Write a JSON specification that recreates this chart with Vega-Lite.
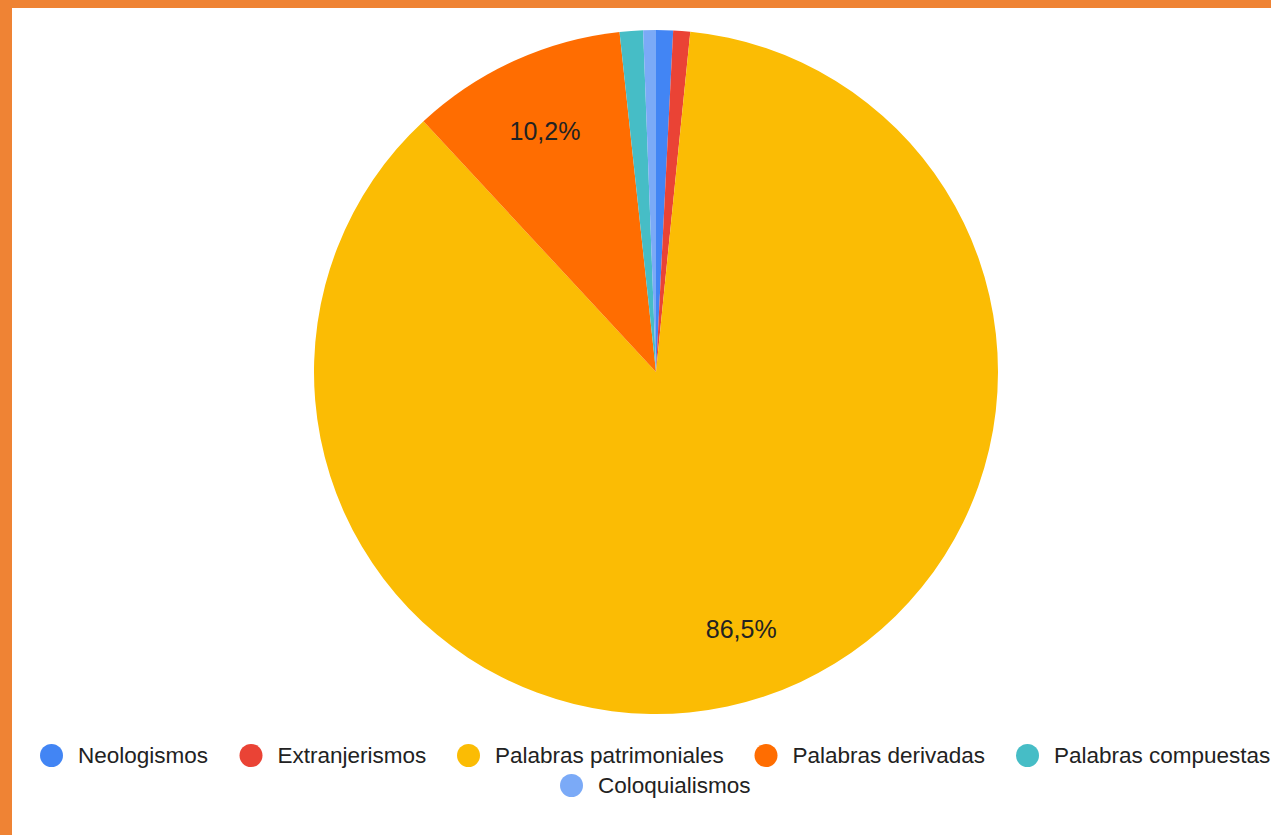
{
  "$schema": "https://vega.github.io/schema/vega-lite/v6.json",
  "width": 1271,
  "height": 835,
  "autosize": {"type": "fit", "contains": "padding"},
  "padding": {"left": 12, "top": 8, "right": 0, "bottom": 0},
  "background": "#ef8334",
  "view": {"fill": "#ffffff", "stroke": null},
  "config": {
    "font": "Liberation Sans",
    "locale": {"number": {"decimal": ",", "thousands": ".", "grouping": [3], "currency": ["", " €"]}}
  },
  "datasets": {
    "slices": [
      {"idx": 1, "categoria": "Neologismos", "share": 0.008},
      {"idx": 2, "categoria": "Extranjerismos", "share": 0.008},
      {"idx": 3, "categoria": "Palabras patrimoniales", "share": 0.865},
      {"idx": 4, "categoria": "Palabras derivadas", "share": 0.102},
      {"idx": 5, "categoria": "Palabras compuestas", "share": 0.011},
      {"idx": 6, "categoria": "Coloquialismos", "share": 0.006}
    ],
    "extra": [{"item": "Coloquialismos"}]
  },
  "layer": [
    {
      "data": {"name": "slices"},
      "mark": {"type": "arc", "outerRadius": 342, "xOffset": 14.5, "yOffset": -49.5},
      "encoding": {
        "theta": {"field": "share", "type": "quantitative", "stack": true},
        "order": {"field": "idx", "type": "quantitative"},
        "color": {
          "field": "categoria",
          "type": "nominal",
          "scale": {
            "domain": ["Neologismos", "Extranjerismos", "Palabras patrimoniales", "Palabras derivadas", "Palabras compuestas", "Coloquialismos"],
            "range": ["#4285f4", "#ea4335", "#fbbc04", "#ff6d01", "#46bdc6", "#7baaf7"]
          },
          "legend": {
            "orient": "none",
            "legendX": 28,
            "legendY": 736,
            "direction": "horizontal",
            "title": null,
            "values": ["Neologismos", "Extranjerismos", "Palabras patrimoniales", "Palabras derivadas", "Palabras compuestas"],
            "symbolType": "circle",
            "symbolSize": 529,
            "symbolStrokeWidth": 0,
            "labelFontSize": 22.5,
            "labelFont": "Liberation Sans",
            "labelColor": "#222222",
            "labelOffset": 15,
            "columnPadding": 30.5,
            "labelLimit": 400
          }
        }
      }
    },
    {
      "data": {"name": "slices"},
      "mark": {"type": "text", "radius": 268, "xOffset": 14.5, "yOffset": -46, "fontSize": 25, "font": "Liberation Sans", "color": "#222222"},
      "encoding": {
        "theta": {"field": "share", "type": "quantitative", "stack": true},
        "order": {"field": "idx", "type": "quantitative"},
        "text": {
          "condition": {"test": "datum.share < 0.05", "value": ""},
          "field": "share",
          "type": "quantitative",
          "format": ".1%"
        }
      }
    },
    {
      "data": {"name": "extra"},
      "mark": {"type": "point", "filled": true, "color": "#7baaf7", "opacity": 0},
      "encoding": {
        "shape": {
          "field": "item",
          "type": "nominal",
          "scale": {"range": ["circle"]},
          "legend": {
            "orient": "none",
            "legendX": 548,
            "legendY": 766,
            "direction": "horizontal",
            "title": null,
            "symbolSize": 529,
            "symbolOpacity": 1,
            "symbolFillColor": "#7baaf7",
            "symbolStrokeWidth": 0,
            "labelFontSize": 22.5,
            "labelFont": "Liberation Sans",
            "labelColor": "#222222",
            "labelOffset": 15,
            "labelLimit": 400
          }
        }
      }
    }
  ]
}
